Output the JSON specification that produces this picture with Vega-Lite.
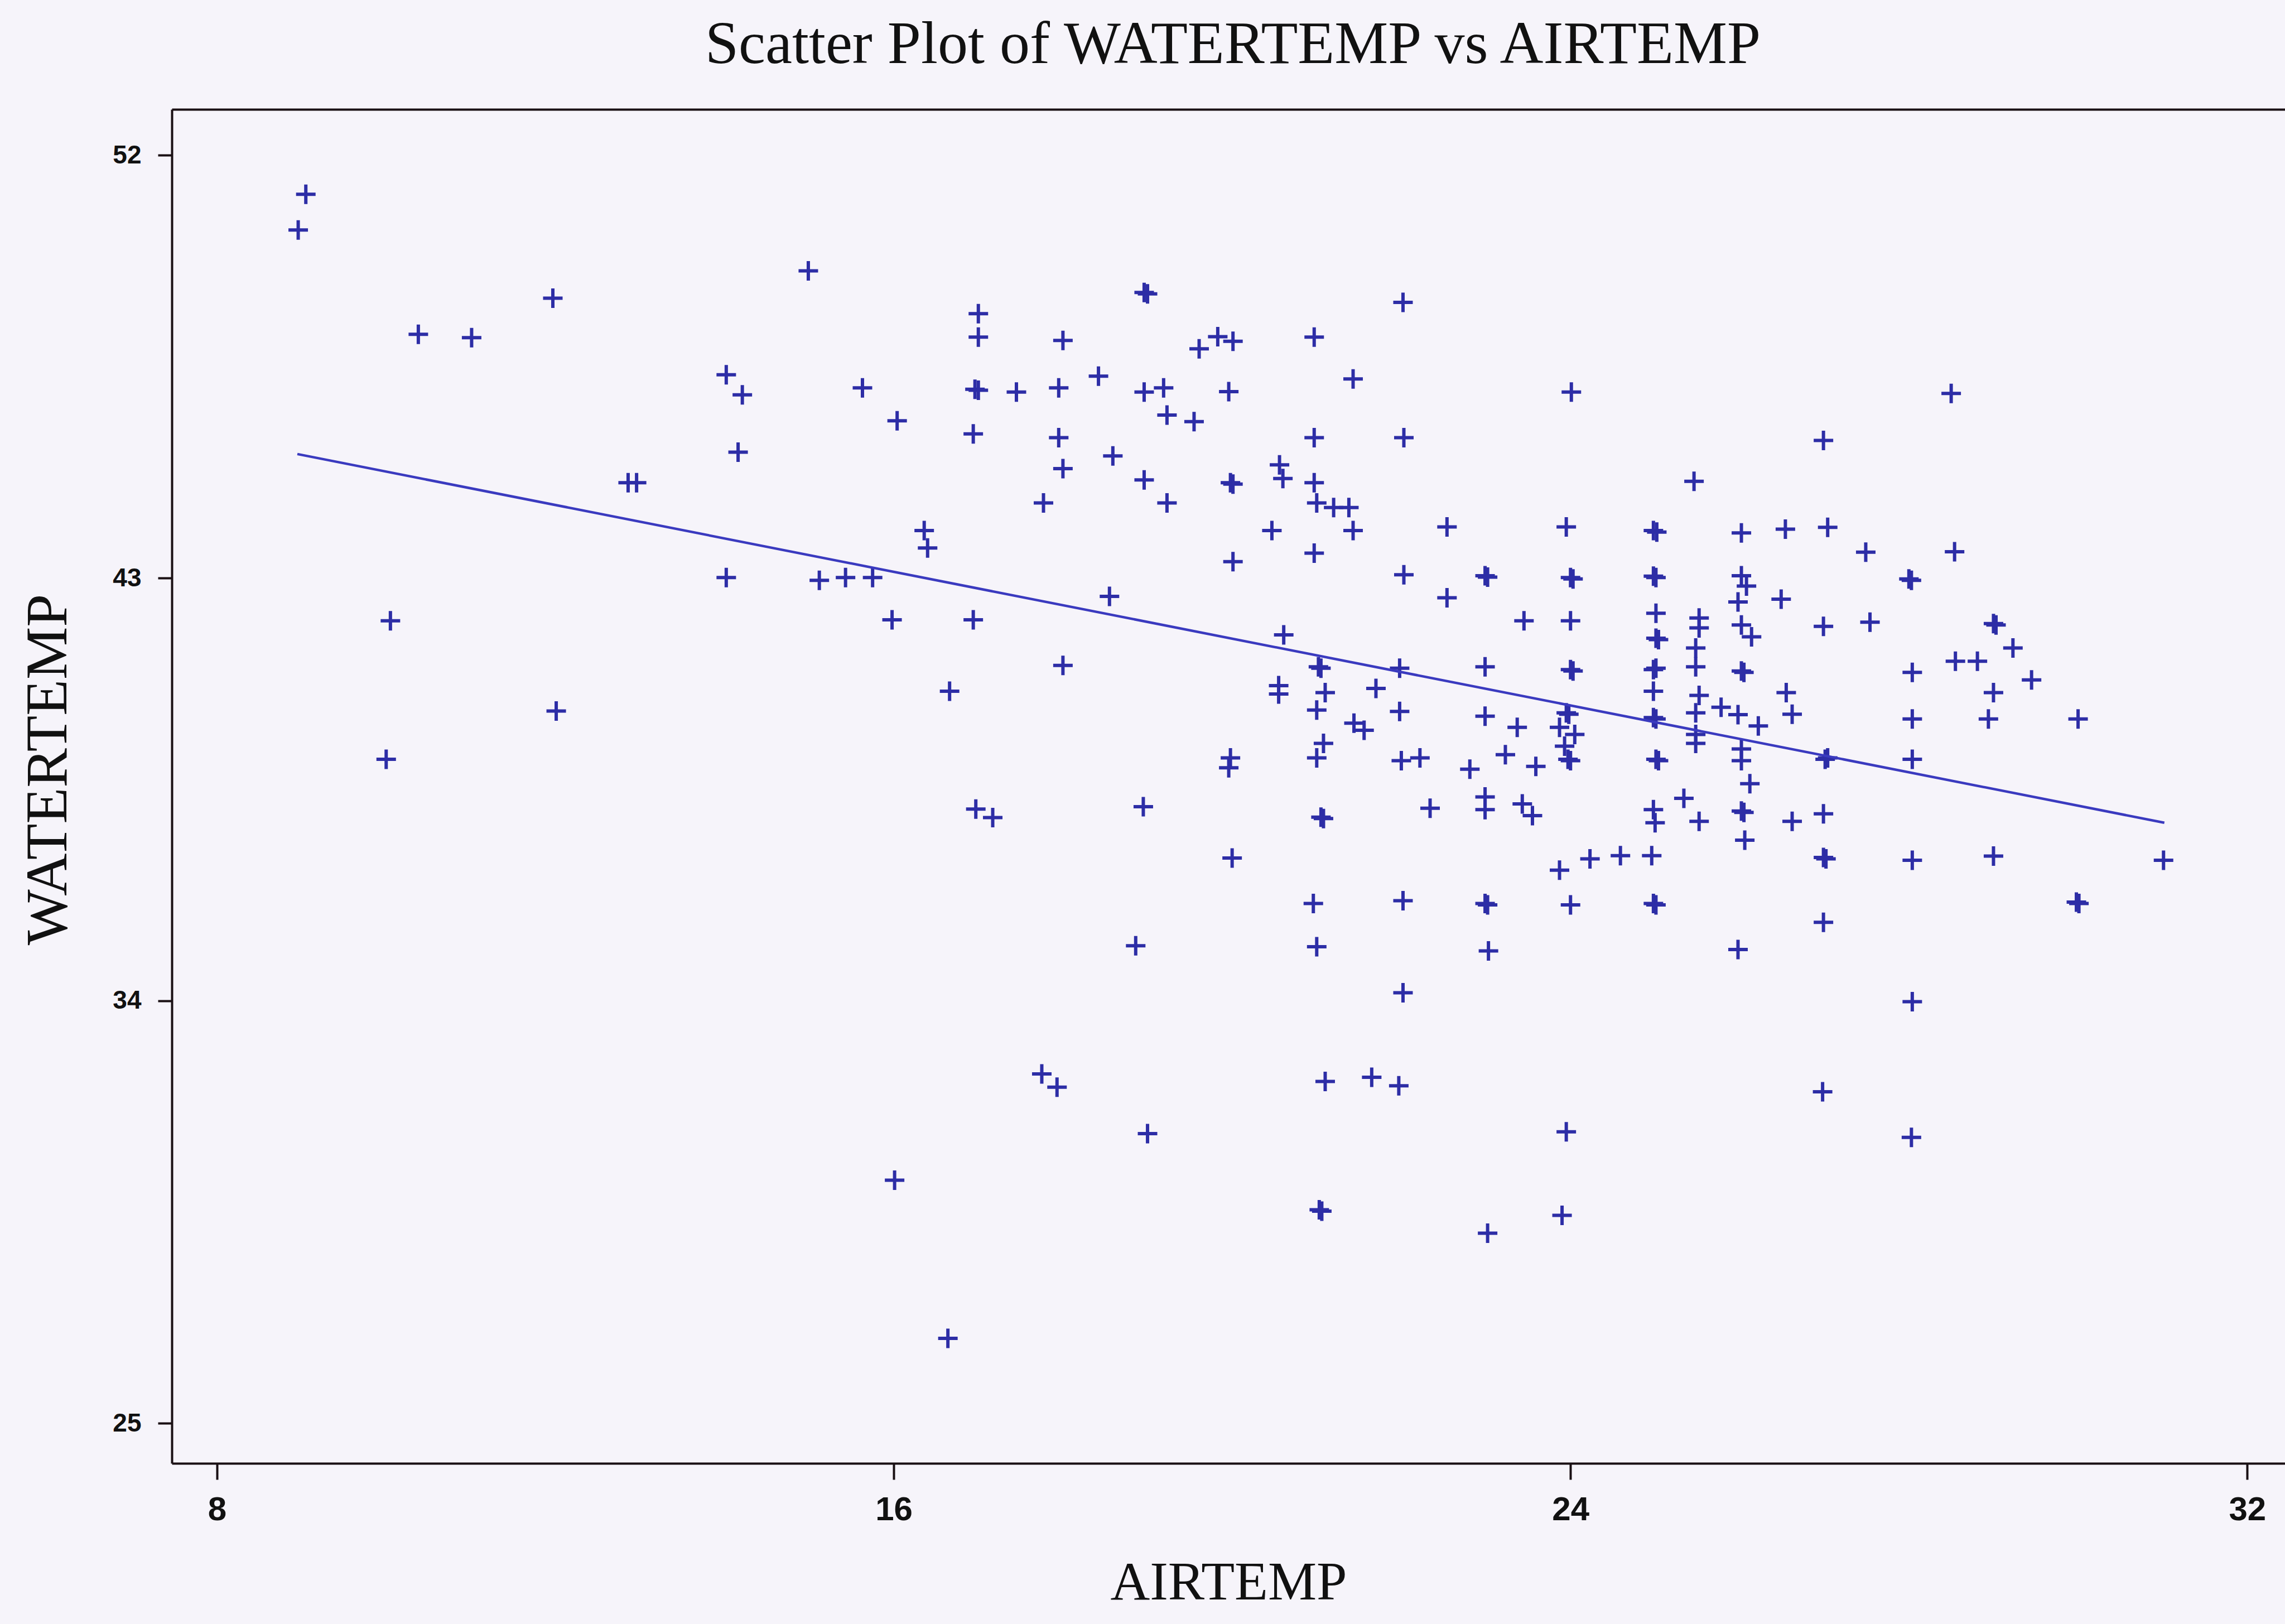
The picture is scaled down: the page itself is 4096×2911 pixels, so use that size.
{
"$schema": "https://vega.github.io/schema/vega-lite/v6.json",
"autosize": {"type": "none"},
"width": 3788,
"height": 2427,
"padding": {"left": 308, "top": 196, "right": 0, "bottom": 288},
"background": "#f6f4fa",
"config": {"view": {"stroke": null}},
"title": {"text": "Scatter Plot of WATERTEMP vs AIRTEMP", "font": "Liberation Serif", "fontSize": 108, "fontWeight": "normal", "color": "#111111", "anchor": "middle", "frame": "group", "baseline": "alphabetic", "offset": 74, "dx": 8, "dy": 99},
"datasets": {
"pts": [
{"AIRTEMP":9.05,"WATERTEMP":51.17},{"AIRTEMP":8.96,"WATERTEMP":50.41},{"AIRTEMP":11.97,"WATERTEMP":48.96},{"AIRTEMP":10.38,"WATERTEMP":48.19},{"AIRTEMP":11.01,"WATERTEMP":48.12},{"AIRTEMP":12.86,"WATERTEMP":45.03},{"AIRTEMP":12.96,"WATERTEMP":45.03},
{"AIRTEMP":14.99,"WATERTEMP":49.54},{"AIRTEMP":18.96,"WATERTEMP":49.08},{"AIRTEMP":19.0,"WATERTEMP":49.05},{"AIRTEMP":17.0,"WATERTEMP":48.63},{"AIRTEMP":17.0,"WATERTEMP":48.13},{"AIRTEMP":18.0,"WATERTEMP":48.06},{"AIRTEMP":19.61,"WATERTEMP":47.88},{"AIRTEMP":19.83,"WATERTEMP":48.14},{"AIRTEMP":20.01,"WATERTEMP":48.04},
{"AIRTEMP":14.02,"WATERTEMP":47.33},{"AIRTEMP":14.21,"WATERTEMP":46.9},{"AIRTEMP":15.63,"WATERTEMP":47.05},{"AIRTEMP":16.96,"WATERTEMP":47.02},{"AIRTEMP":17.0,"WATERTEMP":47.0},{"AIRTEMP":17.45,"WATERTEMP":46.96},{"AIRTEMP":17.95,"WATERTEMP":47.05},{"AIRTEMP":18.42,"WATERTEMP":47.3},{"AIRTEMP":18.96,"WATERTEMP":46.96},{"AIRTEMP":19.19,"WATERTEMP":47.05},{"AIRTEMP":19.96,"WATERTEMP":46.97},
{"AIRTEMP":16.04,"WATERTEMP":46.35},{"AIRTEMP":19.23,"WATERTEMP":46.47},{"AIRTEMP":19.55,"WATERTEMP":46.33},{"AIRTEMP":16.94,"WATERTEMP":46.07},{"AIRTEMP":14.16,"WATERTEMP":45.68},{"AIRTEMP":17.95,"WATERTEMP":45.99},{"AIRTEMP":18.59,"WATERTEMP":45.6},{"AIRTEMP":18.0,"WATERTEMP":45.33},{"AIRTEMP":18.96,"WATERTEMP":45.09},{"AIRTEMP":19.98,"WATERTEMP":45.03},{"AIRTEMP":20.01,"WATERTEMP":45.0},
{"AIRTEMP":17.77,"WATERTEMP":44.6},{"AIRTEMP":19.23,"WATERTEMP":44.6},{"AIRTEMP":16.36,"WATERTEMP":44.01},{"AIRTEMP":16.4,"WATERTEMP":43.64},
{"AIRTEMP":22.02,"WATERTEMP":48.87},{"AIRTEMP":20.97,"WATERTEMP":48.13},{"AIRTEMP":21.43,"WATERTEMP":47.24},{"AIRTEMP":24.01,"WATERTEMP":46.96},{"AIRTEMP":20.97,"WATERTEMP":45.99},{"AIRTEMP":22.03,"WATERTEMP":45.99},{"AIRTEMP":20.56,"WATERTEMP":45.41},{"AIRTEMP":20.6,"WATERTEMP":45.12},{"AIRTEMP":20.97,"WATERTEMP":45.03},{"AIRTEMP":21.0,"WATERTEMP":44.6},{"AIRTEMP":21.2,"WATERTEMP":44.5},{"AIRTEMP":21.38,"WATERTEMP":44.5},{"AIRTEMP":20.47,"WATERTEMP":44.01},{"AIRTEMP":21.43,"WATERTEMP":44.01},{"AIRTEMP":22.54,"WATERTEMP":44.09},{"AIRTEMP":23.95,"WATERTEMP":44.09},{"AIRTEMP":24.98,"WATERTEMP":44.01},{"AIRTEMP":25.02,"WATERTEMP":43.98},{"AIRTEMP":26.02,"WATERTEMP":43.96},{"AIRTEMP":26.54,"WATERTEMP":44.04},{"AIRTEMP":20.97,"WATERTEMP":43.53},
{"AIRTEMP":28.5,"WATERTEMP":46.93},{"AIRTEMP":26.99,"WATERTEMP":45.93},{"AIRTEMP":27.04,"WATERTEMP":44.08},{"AIRTEMP":27.49,"WATERTEMP":43.55},{"AIRTEMP":28.54,"WATERTEMP":43.56},{"AIRTEMP":25.46,"WATERTEMP":45.06},
{"AIRTEMP":10.05,"WATERTEMP":42.09},{"AIRTEMP":12.01,"WATERTEMP":40.17},{"AIRTEMP":10.0,"WATERTEMP":39.14},
{"AIRTEMP":14.02,"WATERTEMP":43.01},{"AIRTEMP":15.12,"WATERTEMP":42.95},{"AIRTEMP":15.43,"WATERTEMP":43.01},{"AIRTEMP":15.75,"WATERTEMP":43.01},{"AIRTEMP":15.98,"WATERTEMP":42.11},{"AIRTEMP":16.94,"WATERTEMP":42.11},{"AIRTEMP":18.55,"WATERTEMP":42.61},{"AIRTEMP":20.01,"WATERTEMP":43.35},{"AIRTEMP":18.0,"WATERTEMP":41.14},{"AIRTEMP":16.66,"WATERTEMP":40.59},{"AIRTEMP":19.98,"WATERTEMP":39.17},{"AIRTEMP":19.96,"WATERTEMP":38.96},{"AIRTEMP":16.97,"WATERTEMP":38.08},{"AIRTEMP":17.17,"WATERTEMP":37.9},{"AIRTEMP":18.95,"WATERTEMP":38.13},{"AIRTEMP":20.0,"WATERTEMP":37.04},{"AIRTEMP":18.86,"WATERTEMP":35.17},
{"AIRTEMP":22.03,"WATERTEMP":43.07},{"AIRTEMP":22.99,"WATERTEMP":43.05},{"AIRTEMP":23.02,"WATERTEMP":43.02},{"AIRTEMP":24.0,"WATERTEMP":43.01},{"AIRTEMP":24.03,"WATERTEMP":42.98},{"AIRTEMP":25.01,"WATERTEMP":43.01},{"AIRTEMP":24.98,"WATERTEMP":43.04},{"AIRTEMP":26.02,"WATERTEMP":43.05},{"AIRTEMP":26.08,"WATERTEMP":42.83},{"AIRTEMP":26.49,"WATERTEMP":42.55},{"AIRTEMP":22.54,"WATERTEMP":42.58},{"AIRTEMP":25.98,"WATERTEMP":42.49},
{"AIRTEMP":23.45,"WATERTEMP":42.09},{"AIRTEMP":24.0,"WATERTEMP":42.09},{"AIRTEMP":25.01,"WATERTEMP":42.25},{"AIRTEMP":25.52,"WATERTEMP":42.15},{"AIRTEMP":25.52,"WATERTEMP":41.94},{"AIRTEMP":25.01,"WATERTEMP":41.72},{"AIRTEMP":25.04,"WATERTEMP":41.69},{"AIRTEMP":26.02,"WATERTEMP":42.0},{"AIRTEMP":26.14,"WATERTEMP":41.75},{"AIRTEMP":20.61,"WATERTEMP":41.79},{"AIRTEMP":25.48,"WATERTEMP":41.51},{"AIRTEMP":25.48,"WATERTEMP":41.11},
{"AIRTEMP":21.02,"WATERTEMP":41.11},{"AIRTEMP":21.05,"WATERTEMP":41.08},{"AIRTEMP":21.98,"WATERTEMP":41.08},{"AIRTEMP":22.99,"WATERTEMP":41.11},{"AIRTEMP":24.0,"WATERTEMP":41.05},{"AIRTEMP":24.03,"WATERTEMP":41.02},{"AIRTEMP":25.01,"WATERTEMP":41.08},{"AIRTEMP":24.98,"WATERTEMP":41.05},{"AIRTEMP":26.02,"WATERTEMP":41.02},{"AIRTEMP":26.05,"WATERTEMP":40.99},
{"AIRTEMP":20.55,"WATERTEMP":40.71},{"AIRTEMP":20.55,"WATERTEMP":40.53},{"AIRTEMP":21.1,"WATERTEMP":40.56},{"AIRTEMP":21.7,"WATERTEMP":40.65},{"AIRTEMP":24.98,"WATERTEMP":40.59},{"AIRTEMP":25.52,"WATERTEMP":40.5},{"AIRTEMP":26.55,"WATERTEMP":40.56},{"AIRTEMP":21.0,"WATERTEMP":40.19},{"AIRTEMP":21.98,"WATERTEMP":40.16},{"AIRTEMP":22.99,"WATERTEMP":40.06},{"AIRTEMP":21.44,"WATERTEMP":39.91},{"AIRTEMP":21.56,"WATERTEMP":39.76},{"AIRTEMP":23.37,"WATERTEMP":39.82},
{"AIRTEMP":23.95,"WATERTEMP":40.13},{"AIRTEMP":23.98,"WATERTEMP":40.1},{"AIRTEMP":23.87,"WATERTEMP":39.82},{"AIRTEMP":24.05,"WATERTEMP":39.67},{"AIRTEMP":23.93,"WATERTEMP":39.42},{"AIRTEMP":23.97,"WATERTEMP":39.14},{"AIRTEMP":24.0,"WATERTEMP":39.11},{"AIRTEMP":24.98,"WATERTEMP":40.03},{"AIRTEMP":25.01,"WATERTEMP":40.0},{"AIRTEMP":25.48,"WATERTEMP":40.13},{"AIRTEMP":25.78,"WATERTEMP":40.25},{"AIRTEMP":25.98,"WATERTEMP":40.09},{"AIRTEMP":26.22,"WATERTEMP":39.85},{"AIRTEMP":25.48,"WATERTEMP":39.67},{"AIRTEMP":25.48,"WATERTEMP":39.48},{"AIRTEMP":26.02,"WATERTEMP":39.36},{"AIRTEMP":26.02,"WATERTEMP":39.11},
{"AIRTEMP":21.08,"WATERTEMP":39.48},{"AIRTEMP":21.0,"WATERTEMP":39.17},{"AIRTEMP":22.0,"WATERTEMP":39.11},{"AIRTEMP":22.22,"WATERTEMP":39.17},{"AIRTEMP":22.81,"WATERTEMP":38.93},{"AIRTEMP":23.23,"WATERTEMP":39.24},{"AIRTEMP":23.59,"WATERTEMP":38.99},{"AIRTEMP":25.04,"WATERTEMP":39.11},{"AIRTEMP":25.01,"WATERTEMP":39.14},{"AIRTEMP":26.12,"WATERTEMP":38.62},{"AIRTEMP":25.34,"WATERTEMP":38.31},
{"AIRTEMP":21.08,"WATERTEMP":37.88},{"AIRTEMP":21.05,"WATERTEMP":37.91},{"AIRTEMP":22.34,"WATERTEMP":38.1},{"AIRTEMP":22.99,"WATERTEMP":38.34},{"AIRTEMP":22.99,"WATERTEMP":38.07},{"AIRTEMP":23.43,"WATERTEMP":38.19},{"AIRTEMP":23.55,"WATERTEMP":37.94},{"AIRTEMP":24.98,"WATERTEMP":38.07},{"AIRTEMP":25.0,"WATERTEMP":37.79},{"AIRTEMP":25.52,"WATERTEMP":37.82},{"AIRTEMP":26.02,"WATERTEMP":38.04},{"AIRTEMP":26.05,"WATERTEMP":38.01},{"AIRTEMP":26.06,"WATERTEMP":37.42},
{"AIRTEMP":23.87,"WATERTEMP":36.78},{"AIRTEMP":24.23,"WATERTEMP":37.02},{"AIRTEMP":24.59,"WATERTEMP":37.09},{"AIRTEMP":24.96,"WATERTEMP":37.09},{"AIRTEMP":20.96,"WATERTEMP":36.07},{"AIRTEMP":22.02,"WATERTEMP":36.13},{"AIRTEMP":22.99,"WATERTEMP":36.07},{"AIRTEMP":23.02,"WATERTEMP":36.04},{"AIRTEMP":24.0,"WATERTEMP":36.04},{"AIRTEMP":24.98,"WATERTEMP":36.07},{"AIRTEMP":25.01,"WATERTEMP":36.04},{"AIRTEMP":21.0,"WATERTEMP":35.15},{"AIRTEMP":23.03,"WATERTEMP":35.06},{"AIRTEMP":25.98,"WATERTEMP":35.09},{"AIRTEMP":22.02,"WATERTEMP":34.17},
{"AIRTEMP":28.0,"WATERTEMP":42.98},{"AIRTEMP":28.03,"WATERTEMP":42.95},{"AIRTEMP":26.99,"WATERTEMP":41.97},{"AIRTEMP":27.54,"WATERTEMP":42.06},{"AIRTEMP":29.0,"WATERTEMP":42.03},{"AIRTEMP":29.03,"WATERTEMP":42.0},{"AIRTEMP":29.23,"WATERTEMP":41.51},{"AIRTEMP":28.55,"WATERTEMP":41.23},{"AIRTEMP":28.81,"WATERTEMP":41.23},{"AIRTEMP":28.04,"WATERTEMP":40.99},{"AIRTEMP":29.45,"WATERTEMP":40.83},{"AIRTEMP":29.0,"WATERTEMP":40.56},{"AIRTEMP":26.62,"WATERTEMP":40.1},{"AIRTEMP":28.04,"WATERTEMP":40.0},{"AIRTEMP":28.94,"WATERTEMP":40.0},{"AIRTEMP":30.0,"WATERTEMP":40.0},
{"AIRTEMP":27.04,"WATERTEMP":39.17},{"AIRTEMP":27.01,"WATERTEMP":39.14},{"AIRTEMP":28.04,"WATERTEMP":39.14},{"AIRTEMP":26.62,"WATERTEMP":37.82},{"AIRTEMP":26.99,"WATERTEMP":37.98},{"AIRTEMP":26.99,"WATERTEMP":37.05},{"AIRTEMP":27.02,"WATERTEMP":37.02},{"AIRTEMP":28.04,"WATERTEMP":36.99},{"AIRTEMP":29.0,"WATERTEMP":37.08},{"AIRTEMP":31.01,"WATERTEMP":36.99},{"AIRTEMP":29.98,"WATERTEMP":36.1},{"AIRTEMP":30.01,"WATERTEMP":36.07},{"AIRTEMP":26.99,"WATERTEMP":35.67},{"AIRTEMP":28.04,"WATERTEMP":33.98},
{"AIRTEMP":17.75,"WATERTEMP":32.44},{"AIRTEMP":17.93,"WATERTEMP":32.16},{"AIRTEMP":19.0,"WATERTEMP":31.17},{"AIRTEMP":16.01,"WATERTEMP":30.18},{"AIRTEMP":16.64,"WATERTEMP":26.81},
{"AIRTEMP":21.1,"WATERTEMP":32.28},{"AIRTEMP":21.65,"WATERTEMP":32.37},{"AIRTEMP":21.97,"WATERTEMP":32.19},{"AIRTEMP":23.95,"WATERTEMP":31.21},{"AIRTEMP":21.06,"WATERTEMP":29.52},{"AIRTEMP":21.03,"WATERTEMP":29.55},{"AIRTEMP":23.02,"WATERTEMP":29.05},{"AIRTEMP":23.9,"WATERTEMP":29.43},
{"AIRTEMP":26.98,"WATERTEMP":32.06},{"AIRTEMP":28.03,"WATERTEMP":31.09}
],
"fit": [{"AIRTEMP": 8.95, "WATERTEMP": 45.64}, {"AIRTEMP": 31.02, "WATERTEMP": 37.79}]
},
"layer": [
{
"data": {"name": "pts"},
"mark": {"type": "point", "shape": "M-1,0H1M0,-1V1", "size": 1225, "strokeWidth": 6, "color": "#2d2da6", "filled": false, "opacity": 1},
"encoding": {
"x": {"field": "AIRTEMP", "type": "quantitative", "scale": {"domain": [7.466, 32.446], "nice": false, "zero": false},
"axis": {"orient": "bottom", "values": [8, 16, 24, 32], "grid": false, "domain": true, "domainColor": "#1a1014", "domainWidth": 4, "ticks": true, "tickColor": "#1a1014", "tickWidth": 4, "tickSize": 29, "labelFont": "Liberation Sans", "labelFontWeight": "bold", "labelFontSize": 60, "labelColor": "#111111", "labelPadding": 25, "title": "AIRTEMP", "titleFont": "Liberation Serif", "titleFontWeight": "normal", "titleFontSize": 98, "titleColor": "#111111", "titleBaseline": "alphabetic", "titleY": 243}},
"y": {"field": "WATERTEMP", "type": "quantitative", "scale": {"domain": [24.15, 52.98], "nice": false, "zero": false},
"axis": {"orient": "left", "values": [25, 34, 43, 52], "grid": false, "domain": true, "domainColor": "#1a1014", "domainWidth": 4, "ticks": true, "tickColor": "#1a1014", "tickWidth": 4, "tickSize": 25, "labelFont": "Liberation Sans", "labelFontWeight": "bold", "labelFontSize": 46, "labelColor": "#111111", "labelPadding": 30, "title": "WATERTEMP", "titleFont": "Liberation Serif", "titleFontWeight": "normal", "titleFontSize": 106, "titleColor": "#111111", "titleAngle": 270, "titleAlign": "center", "titleBaseline": "alphabetic", "titleX": -190, "titleY": 1183}}
}
},
{
"data": {"name": "fit"},
"mark": {"type": "line", "color": "#3a3abf", "strokeWidth": 4.5},
"encoding": {
"x": {"field": "AIRTEMP", "type": "quantitative", "scale": {"domain": [7.466, 32.446], "nice": false, "zero": false},
"axis": {"orient": "top", "labels": false, "ticks": false, "grid": false, "title": null, "domain": true, "domainColor": "#1a1014", "domainWidth": 4}},
"y": {"field": "WATERTEMP", "type": "quantitative", "scale": {"domain": [24.15, 52.98], "nice": false, "zero": false}, "axis": null}
}
}
],
"resolve": {"axis": {"x": "independent", "y": "independent"}}
}
